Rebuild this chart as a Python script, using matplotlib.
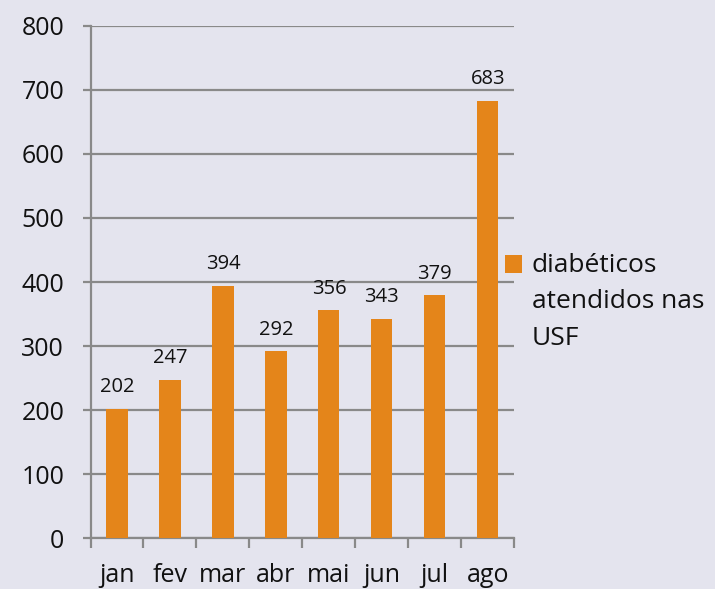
import numpy as np
import matplotlib.pyplot as plt
from matplotlib.patches import Rectangle

# --- data ---
months = ["jan", "fev", "mar", "abr", "mai", "jun", "jul", "ago"]
atendidos = [202, 247, 394, 292, 356, 343, 379, 683]
series_name = "diabéticos\natendidos nas\nUSF"

BAR_COLOR = "#E4851A"
GRID_COLOR = "#898989"
BG_COLOR = "#E4E4EE"
TEXT_COLOR = "#111111"

plt.rcParams["font.family"] = ["Open Sans", "DejaVu Sans"]

fig = plt.figure(figsize=(7.15, 5.89), dpi=100)
fig.patch.set_facecolor(BG_COLOR)

ax = fig.add_axes([0.1266, 0.086, 0.5927, 0.8704])
ax.patch.set_alpha(0.0)

x = np.arange(len(months))
ax.bar(x, atendidos, width=0.4, color=BAR_COLOR, zorder=3)

for xi, v in zip(x, atendidos):
    ax.annotate(f"{v}", xy=(xi, v), xytext=(0, 12), textcoords="offset points",
                ha="center", va="baseline", fontsize=14.5, color=TEXT_COLOR)

ax.set_xlim(-0.5, len(months) - 0.5)
ax.set_ylim(0, 800)
ax.set_yticks(np.arange(0, 801, 100))
ax.grid(axis="y", color=GRID_COLOR, linewidth=1.6, zorder=1)
ax.set_axisbelow(True)

# boundary ticks between categories, labels centred
ax.set_xticks(np.arange(-0.5, len(months)), minor=False)
ax.set_xticklabels([])
ax.set_xticks(x, minor=True)
ax.set_xticklabels(months, minor=True)
ax.tick_params(axis="x", which="major", length=7, width=1.6, color=GRID_COLOR,
               direction="out")
ax.tick_params(axis="x", which="minor", length=0, labelsize=18, pad=18,
               labelcolor=TEXT_COLOR)
ax.tick_params(axis="y", length=6, width=1.6, color=GRID_COLOR, labelsize=18,
               pad=13, labelcolor=TEXT_COLOR)

for s in ["top", "right"]:
    ax.spines[s].set_visible(False)
for s in ["left", "bottom"]:
    ax.spines[s].set_color(GRID_COLOR)
    ax.spines[s].set_linewidth(1.6)

# legend: square next to the first line of the wrapped label
fig.patches.append(Rectangle((0.706, 0.5365), 0.024, 0.0305, transform=fig.transFigure,
                             facecolor=BAR_COLOR, edgecolor="none"))
fig.text(0.744, 0.5705, series_name, ha="left", va="top", fontsize=19,
         linespacing=1.6, color=TEXT_COLOR)

fig.savefig("out.png", dpi=100, facecolor=BG_COLOR)
